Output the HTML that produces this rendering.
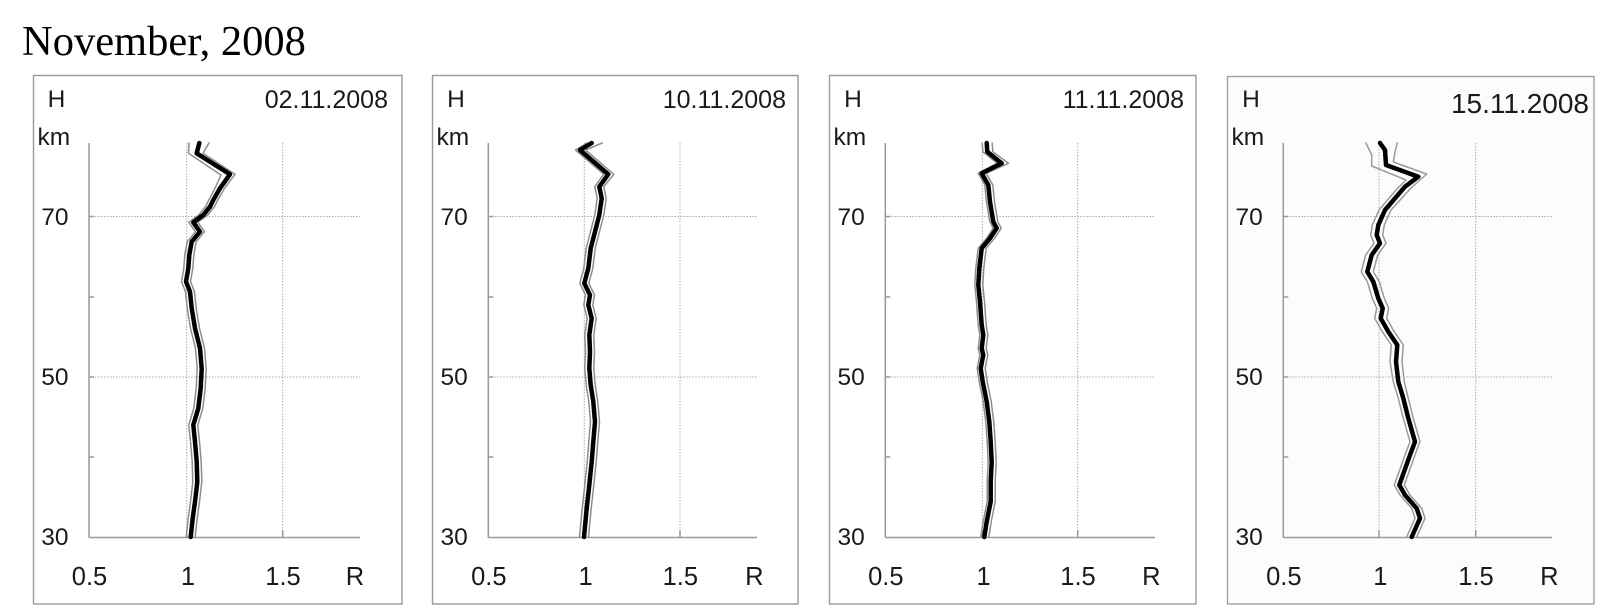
<!DOCTYPE html>
<html>
<head>
<meta charset="utf-8">
<style>
  html, body { margin: 0; padding: 0; background: #ffffff; }
  body { width: 1607px; height: 615px; overflow: hidden; }
  svg { display: block; }
  .t { font-family: "Liberation Sans", Arial, sans-serif; fill: #1a1a1a; }
  .title { font-family: "Liberation Serif", "Times New Roman", serif; fill: #000; }
</style>
</head>
<body>
<svg width="1607" height="615" viewBox="0 0 1607 615" xmlns="http://www.w3.org/2000/svg">
  <rect x="0" y="0" width="1607" height="615" fill="#ffffff"/>
  <text class="title" x="22" y="55" font-size="42.5">November, 2008</text>

  <!-- ============ PANEL 1 ============ -->
  <rect x="33.5" y="75.5" width="368.5" height="528.5" fill="#ffffff" stroke="#9a9a9a" stroke-width="1.4"/>
  <g stroke="#aaaaaa" stroke-width="1" stroke-dasharray="1.5 1.5" fill="none">
    <line x1="186.7" y1="143" x2="186.7" y2="537.5"/>
    <line x1="282.7" y1="143" x2="282.7" y2="537.5"/>
    <line x1="89" y1="216.5" x2="360" y2="216.5"/>
    <line x1="89" y1="377" x2="360" y2="377"/>
  </g>
  <g stroke="#999999" stroke-width="1.5" fill="none">
    <line x1="89" y1="143" x2="89" y2="537.5"/>
    <line x1="89" y1="537.5" x2="360" y2="537.5"/>
    <line x1="89" y1="297" x2="94" y2="297"/>
    <line x1="89" y1="457" x2="94" y2="457"/>
    <line x1="89" y1="216.5" x2="94" y2="216.5"/>
    <line x1="89" y1="377" x2="94" y2="377"/>
    <line x1="186.7" y1="537.5" x2="186.7" y2="530"/>
    <line x1="282.7" y1="537.5" x2="282.7" y2="530"/>
  </g>
  <g fill="none" stroke-linejoin="round" stroke-linecap="round">
    <polyline transform="translate(-1,0)" stroke="#8e8e8e" stroke-width="1.5" points="190,143 189.5,153.3 222,175 216,188.3 209.8,200 206.5,206.7 199.8,215 189.8,222.3 196.5,231.7 188.2,241.7 185.8,255 184.8,268.3 182.5,281.7 186.5,291.7 188.2,308.3 191.5,328.3 196.5,348.3 198.2,368.3 197.2,388.3 194.8,408.3 189.8,425 191.5,441.7 193.2,461.7 193.8,481.7 191.5,501.7 189.2,518.3 187.2,537"/>
    <polyline transform="translate(1,0)" stroke="#8e8e8e" stroke-width="1.5" points="208,143 202,153.3 234,174.3 223.5,188.3 216.8,200 213.5,206.7 206.8,215 196.8,222.3 203.5,231.7 195.2,241.7 192.8,255 191.8,268.3 189.5,281.7 193.5,291.7 195.2,308.3 198.5,328.3 203.5,348.3 205.2,368.3 204.2,388.3 201.8,408.3 196.8,425 198.5,441.7 200.2,461.7 200.8,481.7 198.5,501.7 196.2,518.3 194.2,537"/>
    <polyline stroke="#000000" stroke-width="4.5" points="199.3,143 196.7,153.3 230,174.3 220,188.3 213.3,200 210,206.7 203.3,215 193.3,222.3 200,231.7 191.7,241.7 189.3,255 188.3,268.3 186,281.7 190,291.7 191.7,308.3 195,328.3 200,348.3 201.7,368.3 200.7,388.3 198.3,408.3 193.3,425 195,441.7 196.7,461.7 197.3,481.7 195,501.7 192.7,518.3 190.7,537"/>
  </g>
  <g class="t" font-size="24.5">
    <text x="56.5" y="107" text-anchor="middle">H</text>
    <text x="37.5" y="145">km</text>
    <text x="68.5" y="225" text-anchor="end">70</text>
    <text x="68.5" y="385" text-anchor="end">50</text>
    <text x="68.5" y="545" text-anchor="end">30</text>
    <text x="89.5" y="585" text-anchor="middle" font-size="25.5">0.5</text>
    <text x="188" y="585" text-anchor="middle" font-size="25.5">1</text>
    <text x="283" y="585" text-anchor="middle" font-size="25.5">1.5</text>
    <text x="355" y="585" text-anchor="middle" font-size="25.5">R</text>
    <text x="388" y="108" text-anchor="end" font-size="25">02.11.2008</text>
  </g>

  <!-- ============ PANEL 2 ============ -->
  <rect x="432.5" y="75.5" width="365.5" height="528.5" fill="#ffffff" stroke="#9a9a9a" stroke-width="1.4"/>
  <g stroke="#aaaaaa" stroke-width="1" stroke-dasharray="1.5 1.5" fill="none">
    <line x1="584.3" y1="143" x2="584.3" y2="537.5"/>
    <line x1="680" y1="143" x2="680" y2="537.5"/>
    <line x1="488.3" y1="216.5" x2="757" y2="216.5"/>
    <line x1="488.3" y1="377" x2="757" y2="377"/>
  </g>
  <g stroke="#999999" stroke-width="1.5" fill="none">
    <line x1="488.3" y1="143" x2="488.3" y2="537.5"/>
    <line x1="488.3" y1="537.5" x2="757" y2="537.5"/>
    <line x1="488.3" y1="297" x2="493.3" y2="297"/>
    <line x1="488.3" y1="457" x2="493.3" y2="457"/>
    <line x1="488.3" y1="216.5" x2="493.3" y2="216.5"/>
    <line x1="488.3" y1="377" x2="493.3" y2="377"/>
    <line x1="584.3" y1="537.5" x2="584.3" y2="530"/>
    <line x1="680" y1="537.5" x2="680" y2="530"/>
  </g>
  <g fill="none" stroke-linejoin="round" stroke-linecap="round">
    <polyline transform="translate(-4.5,0)" stroke="#8e8e8e" stroke-width="1.5" points="591.7,143 580,150 608.3,174.3 599.3,186.7 601.7,198.3 599.3,215 595,231.7 590.7,248.3 588.3,268.3 584.3,283.3 590,295 588.3,305 591.7,318.3 589.3,335 590,351.7 589.3,368.3 590.7,385 593.3,401.7 595,421.7 593.3,441.7 591.7,461.7 589.3,485 586.7,508.3 584,537"/>
    <polyline transform="translate(0.5,0)" stroke="#8e8e8e" stroke-width="1.5" points="601.7,143 585,150 613.3,174.3 603.3,186.7 605.7,198.3 603.3,215 599,231.7 594.7,248.3 592.3,268.3 588.3,283.3 594,295 592.3,305 595.7,318.3 593.3,335 594,351.7 593.3,368.3 594.7,385 597.3,401.7 599,421.7 597.3,441.7 595.7,461.7 593.3,485 590.7,508.3 588,537"/>
    <polyline stroke="#000000" stroke-width="4.5" points="591.7,143 580,150 608.3,174.3 599.3,186.7 601.7,198.3 599.3,215 595,231.7 590.7,248.3 588.3,268.3 584.3,283.3 590,295 588.3,305 591.7,318.3 589.3,335 590,351.7 589.3,368.3 590.7,385 593.3,401.7 595,421.7 593.3,441.7 591.7,461.7 589.3,485 586.7,508.3 584,537"/>
  </g>
  <g class="t" font-size="24.5">
    <text x="456" y="107" text-anchor="middle">H</text>
    <text x="436.5" y="145">km</text>
    <text x="467.8" y="225" text-anchor="end">70</text>
    <text x="467.8" y="385" text-anchor="end">50</text>
    <text x="467.8" y="545" text-anchor="end">30</text>
    <text x="488.8" y="585" text-anchor="middle" font-size="25.5">0.5</text>
    <text x="585.6" y="585" text-anchor="middle" font-size="25.5">1</text>
    <text x="680.3" y="585" text-anchor="middle" font-size="25.5">1.5</text>
    <text x="754.3" y="585" text-anchor="middle" font-size="25.5">R</text>
    <text x="786" y="108" text-anchor="end" font-size="25">10.11.2008</text>
  </g>

  <!-- ============ PANEL 3 ============ -->
  <rect x="829.5" y="75.5" width="366.5" height="528.5" fill="#ffffff" stroke="#9a9a9a" stroke-width="1.4"/>
  <g stroke="#aaaaaa" stroke-width="1" stroke-dasharray="1.5 1.5" fill="none">
    <line x1="982.3" y1="143" x2="982.3" y2="537.5"/>
    <line x1="1077.7" y1="143" x2="1077.7" y2="537.5"/>
    <line x1="885.3" y1="216.5" x2="1155" y2="216.5"/>
    <line x1="885.3" y1="377" x2="1155" y2="377"/>
  </g>
  <g stroke="#999999" stroke-width="1.5" fill="none">
    <line x1="885.3" y1="143" x2="885.3" y2="537.5"/>
    <line x1="885.3" y1="537.5" x2="1155" y2="537.5"/>
    <line x1="885.3" y1="297" x2="890.3" y2="297"/>
    <line x1="885.3" y1="457" x2="890.3" y2="457"/>
    <line x1="885.3" y1="216.5" x2="890.3" y2="216.5"/>
    <line x1="885.3" y1="377" x2="890.3" y2="377"/>
    <line x1="982.3" y1="537.5" x2="982.3" y2="530"/>
    <line x1="1077.7" y1="537.5" x2="1077.7" y2="530"/>
  </g>
  <g fill="none" stroke-linejoin="round" stroke-linecap="round">
    <polyline transform="translate(0.5,0)" stroke="#8e8e8e" stroke-width="1.5" points="981.7,143 982.3,151.7 996.7,163.3 977.7,173.3 984.3,185 986,201.7 989.3,221.7 992.7,228.3 986,238.3 977.7,248.3 975.3,268.3 974.3,285 976,301.7 977.7,325 979.3,335 977.7,348.3 979.3,355 976.7,368.3 978.7,381.7 982.7,401.7 985.3,421.7 986.7,441.7 987.7,461.7 986.7,481.7 986.7,501.7 982.7,521.7 980.3,537"/>
    <polyline transform="translate(0.5,0)" stroke="#8e8e8e" stroke-width="1.5" points="991.7,143 992.3,151.7 1008,163.3 985.7,173.3 992.3,185 994,201.7 997.3,221.7 1000.7,228.3 994,238.3 985.7,248.3 983.3,268.3 982.3,285 984,301.7 985.7,325 987.3,335 985.7,348.3 987.3,355 984.7,368.3 986.7,381.7 990.7,401.7 993.3,421.7 994.7,441.7 995.7,461.7 994.7,481.7 994.7,501.7 990.7,521.7 988.3,537"/>
    <polyline stroke="#000000" stroke-width="4.5" points="986.7,143 987.3,151.7 1001.7,163.3 981.7,173.3 988.3,185 990,201.7 993.3,221.7 996.7,228.3 990,238.3 981.7,248.3 979.3,268.3 978.3,285 980,301.7 981.7,325 983.3,335 981.7,348.3 983.3,355 980.7,368.3 982.7,381.7 986.7,401.7 989.3,421.7 990.7,441.7 991.7,461.7 990.7,481.7 990.7,501.7 986.7,521.7 984.3,537"/>
  </g>
  <g class="t" font-size="24.5">
    <text x="853" y="107" text-anchor="middle">H</text>
    <text x="833.5" y="145">km</text>
    <text x="864.8" y="225" text-anchor="end">70</text>
    <text x="864.8" y="385" text-anchor="end">50</text>
    <text x="864.8" y="545" text-anchor="end">30</text>
    <text x="885.8" y="585" text-anchor="middle" font-size="25.5">0.5</text>
    <text x="983.6" y="585" text-anchor="middle" font-size="25.5">1</text>
    <text x="1078" y="585" text-anchor="middle" font-size="25.5">1.5</text>
    <text x="1151.3" y="585" text-anchor="middle" font-size="25.5">R</text>
    <text x="1184" y="108" text-anchor="end" font-size="25">11.11.2008</text>
  </g>

  <!-- ============ PANEL 4 ============ -->
  <rect x="1227.5" y="76.5" width="366.5" height="527.5" fill="#fcfcfc" stroke="#a0a0a0" stroke-width="1.4"/>
  <g stroke="#aaaaaa" stroke-width="1" stroke-dasharray="1.5 1.5" fill="none">
    <line x1="1379" y1="143" x2="1379" y2="537.5"/>
    <line x1="1475.7" y1="143" x2="1475.7" y2="537.5"/>
    <line x1="1283.3" y1="216.5" x2="1552" y2="216.5"/>
    <line x1="1283.3" y1="377" x2="1552" y2="377"/>
  </g>
  <g stroke="#999999" stroke-width="1.5" fill="none">
    <line x1="1283.3" y1="143" x2="1283.3" y2="537.5"/>
    <line x1="1283.3" y1="537.5" x2="1552" y2="537.5"/>
    <line x1="1283.3" y1="297" x2="1288.3" y2="297"/>
    <line x1="1283.3" y1="457" x2="1288.3" y2="457"/>
    <line x1="1283.3" y1="216.5" x2="1288.3" y2="216.5"/>
    <line x1="1283.3" y1="377" x2="1288.3" y2="377"/>
    <line x1="1379" y1="537.5" x2="1379" y2="530"/>
    <line x1="1475.7" y1="537.5" x2="1475.7" y2="530"/>
  </g>
  <g fill="none" stroke-linejoin="round" stroke-linecap="round">
    <polyline stroke="#9a9a9a" stroke-width="1.5" points="1366,143 1371.7,155 1371.7,166 1406,180 1397,189 1389,198.3 1379,210 1372.3,225 1370.7,235 1374,243.3 1365.7,255 1361.3,271.7 1367.3,281.7 1372.3,298.3 1376.7,308.3 1374.7,318.3 1382.3,331.7 1391.3,345 1390,361.7 1393.3,381.7 1398.3,398.3 1403.3,418.3 1410,441.7 1405,455 1394.3,485 1400,495 1411.7,508.3 1415,518.3 1406.7,537"/>
    <polyline stroke="#9a9a9a" stroke-width="1.5" points="1397.3,143 1395,152 1393.3,162 1426.7,174 1411,188 1401,199 1391,210 1384.3,225 1382.7,235 1386,243.3 1377.7,255 1373.3,271.7 1379.3,281.7 1384.3,298.3 1388.7,308.3 1386.7,318.3 1394.3,331.7 1403.3,345 1402,361.7 1404.3,381.7 1408.3,398.3 1413.3,418.3 1420,441.7 1415,455 1404.3,485 1410,495 1421.7,508.3 1425,518.3 1416.7,537"/>
    <polyline stroke="#000000" stroke-width="4.5" points="1380,143 1385,150 1386,165 1418.3,176.7 1405,186.7 1395,198.3 1385,210 1378.3,225 1376.7,235 1380,243.3 1371.7,255 1367.3,271.7 1373.3,281.7 1378.3,298.3 1382.7,308.3 1380.7,318.3 1388.3,331.7 1397.3,345 1396,361.7 1398.3,381.7 1403.3,398.3 1408.3,418.3 1415,441.7 1410,455 1399.3,485 1405,495 1416.7,508.3 1420,518.3 1411.7,537"/>
  </g>
  <g class="t" font-size="24.5">
    <text x="1251" y="107" text-anchor="middle">H</text>
    <text x="1231.5" y="145">km</text>
    <text x="1262.8" y="225" text-anchor="end">70</text>
    <text x="1262.8" y="385" text-anchor="end">50</text>
    <text x="1262.8" y="545" text-anchor="end">30</text>
    <text x="1283.8" y="585" text-anchor="middle" font-size="25.5">0.5</text>
    <text x="1380.3" y="585" text-anchor="middle" font-size="25.5">1</text>
    <text x="1476" y="585" text-anchor="middle" font-size="25.5">1.5</text>
    <text x="1549.3" y="585" text-anchor="middle" font-size="25.5">R</text>
    <text x="1589" y="113" text-anchor="end" font-size="28">15.11.2008</text>
  </g>
</svg>
</body>
</html>
